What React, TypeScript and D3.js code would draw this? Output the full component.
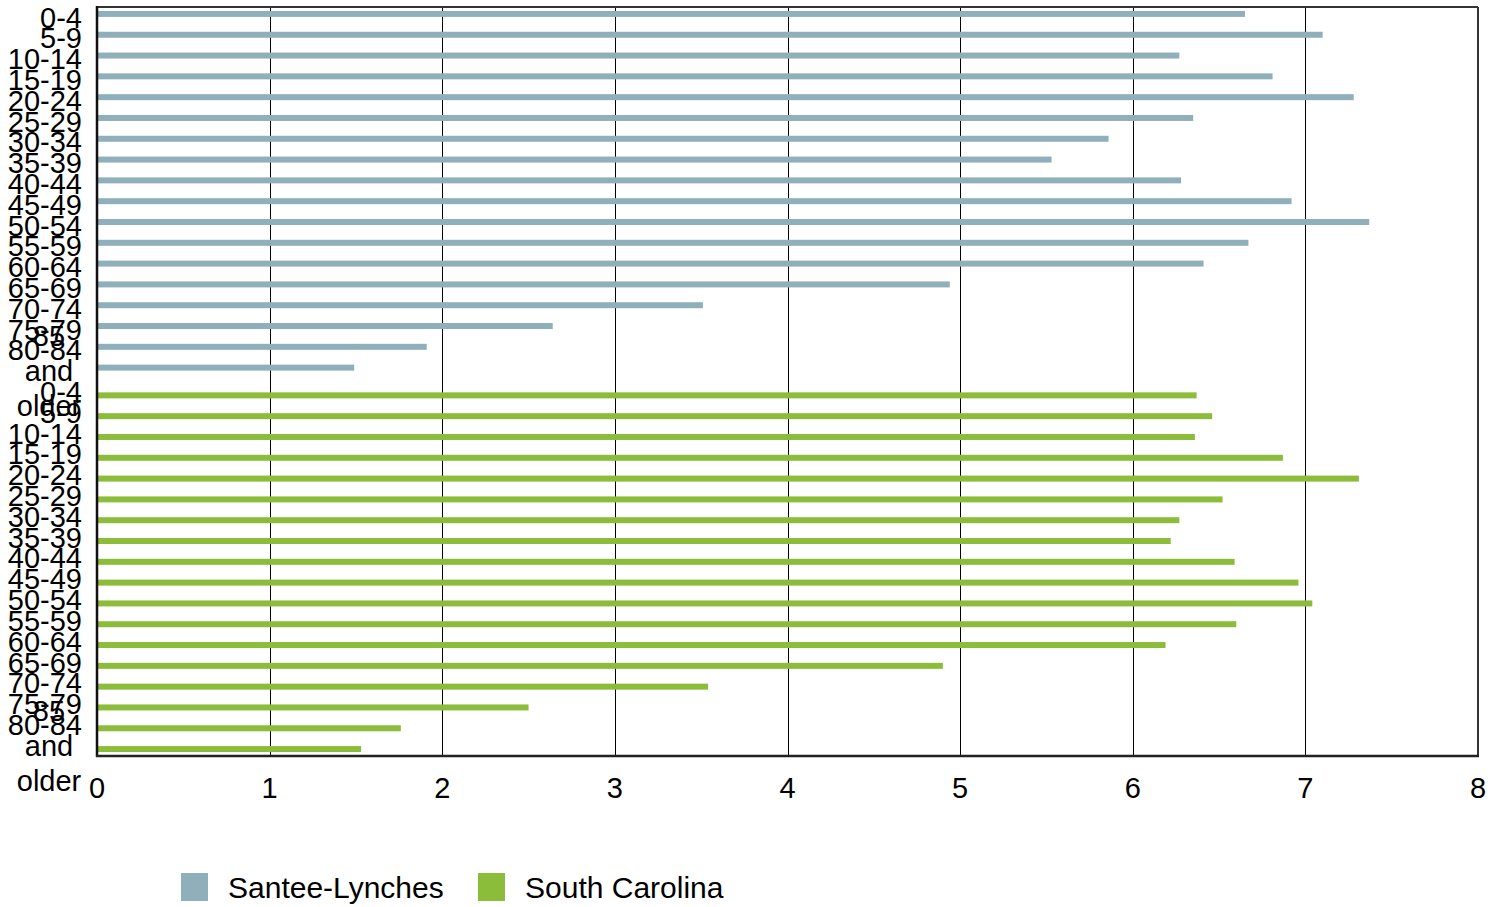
import React from "react";
import * as d3 from "d3";

const ageGroups = ["0-4","5-9","10-14","15-19","20-24","25-29","30-34","35-39","40-44","45-49","50-54","55-59","60-64","65-69","70-74","75-79","80-84","85 and older"];
const seriesNames = ["Santee-Lynches", "South Carolina"];
const seriesColors = ["#8fb0bb", "#8bbd3a"];
const santeeValues = [6.65,7.10,6.27,6.81,7.28,6.35,5.86,5.53,6.28,6.92,7.37,6.67,6.41,4.94,3.51,2.64,1.91,1.49];
const scValues = [6.37,6.46,6.36,6.87,7.31,6.52,6.27,6.22,6.59,6.96,7.04,6.60,6.19,4.90,3.54,2.50,1.76,1.53];
const xTicks = [0,1,2,3,4,5,6,7,8];

const W = 1503, H = 907;
const left = 97, right = 1478, top = 7, bottom = 756;
const FONT = "Liberation Sans, Arial, sans-serif";

export default function App() {
  const x = d3.scaleLinear().domain([0, 8]).range([left, right]);
  const cats = [
    ...ageGroups.map((a) => ({ key: "S|" + a, label: a, series: 0 })),
    ...ageGroups.map((a) => ({ key: "C|" + a, label: a, series: 1 })),
  ];
  const y = d3.scaleBand().domain(cats.map((c) => c.key)).range([top, bottom]).padding(0);
  const inner = d3.scalePoint().domain(["0", "1"]).range([0, y.bandwidth()]).padding(1);
  const barH = 6;
  const bars = [
    ...santeeValues.map((v, i) => ({ key: "S|" + ageGroups[i], v, s: 0 })),
    ...scValues.map((v, i) => ({ key: "C|" + ageGroups[i], v, s: 1 })),
  ];
  const lineH = 35;
  return (
    <svg width={W} height={H} style={{ position: "absolute", left: 0, top: 0, background: "#fff" }} fontFamily={FONT}>
      <rect x={0} y={0} width={W} height={H} fill="#fff" />
      {xTicks.slice(1, -1).map((t) => {
        const gx = Math.round(x(t)) + 0.5;
        return <line key={t} x1={gx} x2={gx} y1={top} y2={bottom} stroke="#000" strokeWidth={1} />;
      })}
      {bars.map((b) => {
        const cy = (y(b.key) as number) + (inner(String(b.s)) as number);
        return (
          <rect key={b.key} x={x(0)} y={cy - barH / 2} width={x(b.v) - x(0)} height={barH} fill={seriesColors[b.s]} />
        );
      })}
      <line x1={left} x2={right} y1={top} y2={top} stroke="#333" strokeWidth={2} />
      <line x1={right} x2={right} y1={top} y2={bottom} stroke="#333" strokeWidth={2} />
      <line x1={left} x2={left} y1={top - 1} y2={bottom + 1} stroke="#111" strokeWidth={2.5} />
      <line x1={left - 1} x2={right + 1} y1={bottom} y2={bottom} stroke="#222" strokeWidth={2.5} />
      {xTicks.map((t) => (
        <text key={t} x={x(t)} y={798} fontSize={29} textAnchor="middle" fill="#000">{t}</text>
      ))}
      {cats.map((c) => {
        const cy = (y(c.key) as number) + y.bandwidth() / 2;
        if (c.label.includes(" ")) {
          const parts = c.label.split(" ");
          return (
            <g key={c.key}>
              {parts.map((p, j) => (
                <text key={j} x={49} y={cy + (j - 1) * lineH} dy="0.35em" fontSize={29} textAnchor="middle" fill="#000">{p}</text>
              ))}
            </g>
          );
        }
        return (
          <text key={c.key} x={82} y={cy} dy="0.35em" fontSize={29} textAnchor="end" fill="#000">{c.label}</text>
        );
      })}
      {seriesNames.map((n, i) => {
        const lx = [181, 478][i];
        return (
          <g key={n}>
            <rect x={lx} y={873} width={27} height={28} fill={seriesColors[i]} />
            <text x={lx + 47} y={887} dy="0.35em" fontSize={30} fill="#000">{n}</text>
          </g>
        );
      })}
    </svg>
  );
}
